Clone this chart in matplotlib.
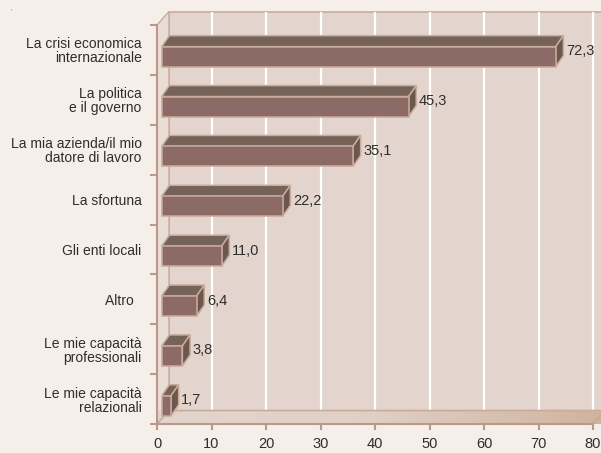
import matplotlib
matplotlib.use("Agg")
import matplotlib.pyplot as plt
import numpy as np
from matplotlib.patches import Polygon
from matplotlib.colors import LinearSegmentedColormap

plt.rcParams['font.family'] = ['Liberation Sans', 'DejaVu Sans']

categories = [
    "La crisi economica\ninternazionale",
    "La politica\ne il governo",
    "La mia azienda/il mio\ndatore di lavoro",
    "La sfortuna",
    "Gli enti locali",
    "Altro  ",
    "Le mie capacità\nprofessionali",
    "Le mie capacità\nrelazionali",
]
values = [72.3, 45.3, 35.1, 22.2, 11.0, 6.4, 3.8, 1.7]
x_ticks = [0, 10, 20, 30, 40, 50, 60, 70, 80]

BG = "#f5eee9"
WALL = "#e3d5cd"
SIDE_WALL = "#e9ddd5"
AXIS = "#b8998a"
EDGE = "#c9ab9a"
FRONT = "#8c6a65"
TOP = "#756259"
SIDE = "#6a584f"
TEXT = "#2e2e2e"

fig = plt.figure(figsize=(6.01, 4.53), dpi=100, facecolor=BG)
ax = fig.add_axes([157 / 601, 29 / 453, 436 / 601, 399 / 453])
ax.set_facecolor("none")
n = len(categories)
XMAX = 80
ax.set_xlim(0, XMAX)
ax.set_ylim(n - 0.5, -0.5)

# depth of the 3D box (data units)
DX, DY = 2.2, 0.27
# bar placement inside the box
BX0 = 0.86
BTOP, BBOT = -0.066, 0.335
BDX, BDY = 1.41, 0.22

top_y, bot_y = -0.5, n - 0.5

# back wall
ax.add_patch(Polygon([(DX, top_y - DY), (XMAX + DX, top_y - DY),
                      (XMAX + DX, bot_y - DY), (DX, bot_y - DY)],
                     closed=True, facecolor=WALL, edgecolor=EDGE, lw=1.2,
                     zorder=0, clip_on=False))
# left side wall
ax.add_patch(Polygon([(0, top_y), (DX, top_y - DY), (DX, bot_y - DY), (0, bot_y)],
                     closed=True, facecolor=SIDE_WALL, edgecolor=EDGE, lw=1.0,
                     zorder=0.5, clip_on=False))

# gridlines on the back wall
for t in x_ticks[1:]:
    ax.plot([t, t], [top_y - DY, bot_y - DY], color="white", lw=1.6,
            zorder=1, clip_on=False, solid_capstyle="butt")

# floor with a warm gradient towards the right
floor = Polygon([(0, bot_y), (XMAX, bot_y), (XMAX + DX, bot_y - DY), (DX, bot_y - DY)],
                closed=True, facecolor="none", edgecolor=EDGE, lw=1.2,
                zorder=2, clip_on=False)
ax.add_patch(floor)
cmap = LinearSegmentedColormap.from_list("floor", [(0, "#e2d5cd"), (0.45, "#e0d1c7"), (1, "#d1b39e")])
grad = np.linspace(0, 1, 256).reshape(1, -1)
im = ax.imshow(grad, cmap=cmap, extent=[0, XMAX + DX, bot_y, bot_y - DY],
               aspect="auto", zorder=1.5, clip_on=False)
im.set_clip_path(floor)
ax.set_xlim(0, XMAX)
ax.set_ylim(n - 0.5, -0.5)

# 3D bars
for i, v in enumerate(values):
    y0, y1 = i + BTOP, i + BBOT
    x0, x1 = BX0, BX0 + v
    kw = dict(closed=True, edgecolor=EDGE, lw=1.1, zorder=3 + i * 0.01, clip_on=False,
              joinstyle="miter")
    ax.add_patch(Polygon([(x0, y0), (x1, y0), (x1 + BDX, y0 - BDY), (x0 + BDX, y0 - BDY)],
                         facecolor=TOP, **kw))
    ax.add_patch(Polygon([(x1, y0), (x1 + BDX, y0 - BDY), (x1 + BDX, y1 - BDY), (x1, y1)],
                         facecolor=SIDE, **kw))
    ax.add_patch(Polygon([(x0, y0), (x1, y0), (x1, y1), (x0, y1)],
                         facecolor=FRONT, **kw))
    ax.text(x1 + BDX + 0.5, (y0 - BDY + y1) / 2, f"{v:.1f}".replace(".", ","),
            ha="left", va="center", fontsize=10.5, color=TEXT, zorder=5)

# axes styling
for s in ["top", "right"]:
    ax.spines[s].set_visible(False)
for s in ["left", "bottom"]:
    ax.spines[s].set_color(AXIS)
    ax.spines[s].set_linewidth(1.5)
    ax.spines[s].set_zorder(4)
ax.plot([XMAX, XMAX + DX], [bot_y, bot_y - DY], color=EDGE, lw=1.2, zorder=4, clip_on=False)

ax.set_xticks(x_ticks)
ax.set_xticklabels([str(t) for t in x_ticks])
ax.tick_params(axis="x", direction="out", length=4, width=1.5, color=AXIS,
               labelsize=10.5, labelcolor=TEXT, pad=5)
ax.set_yticks(np.arange(-0.5, n, 1.0))
ax.set_yticklabels([])
ax.tick_params(axis="y", which="major", direction="out", length=5, width=1.5, color=AXIS)
ax.set_yticks(np.arange(n), categories, minor=True)
ax.tick_params(axis="y", which="minor", length=0, labelsize=10, labelcolor=TEXT, pad=11)
for lab in ax.get_yticklabels(minor=True):
    lab.set_linespacing(1.0)

fig.text(11 / 601, 1 - 12 / 453, "'", fontsize=5, color="#777777", ha="center", va="center")

fig.savefig("out.png", dpi=100, facecolor=BG)
